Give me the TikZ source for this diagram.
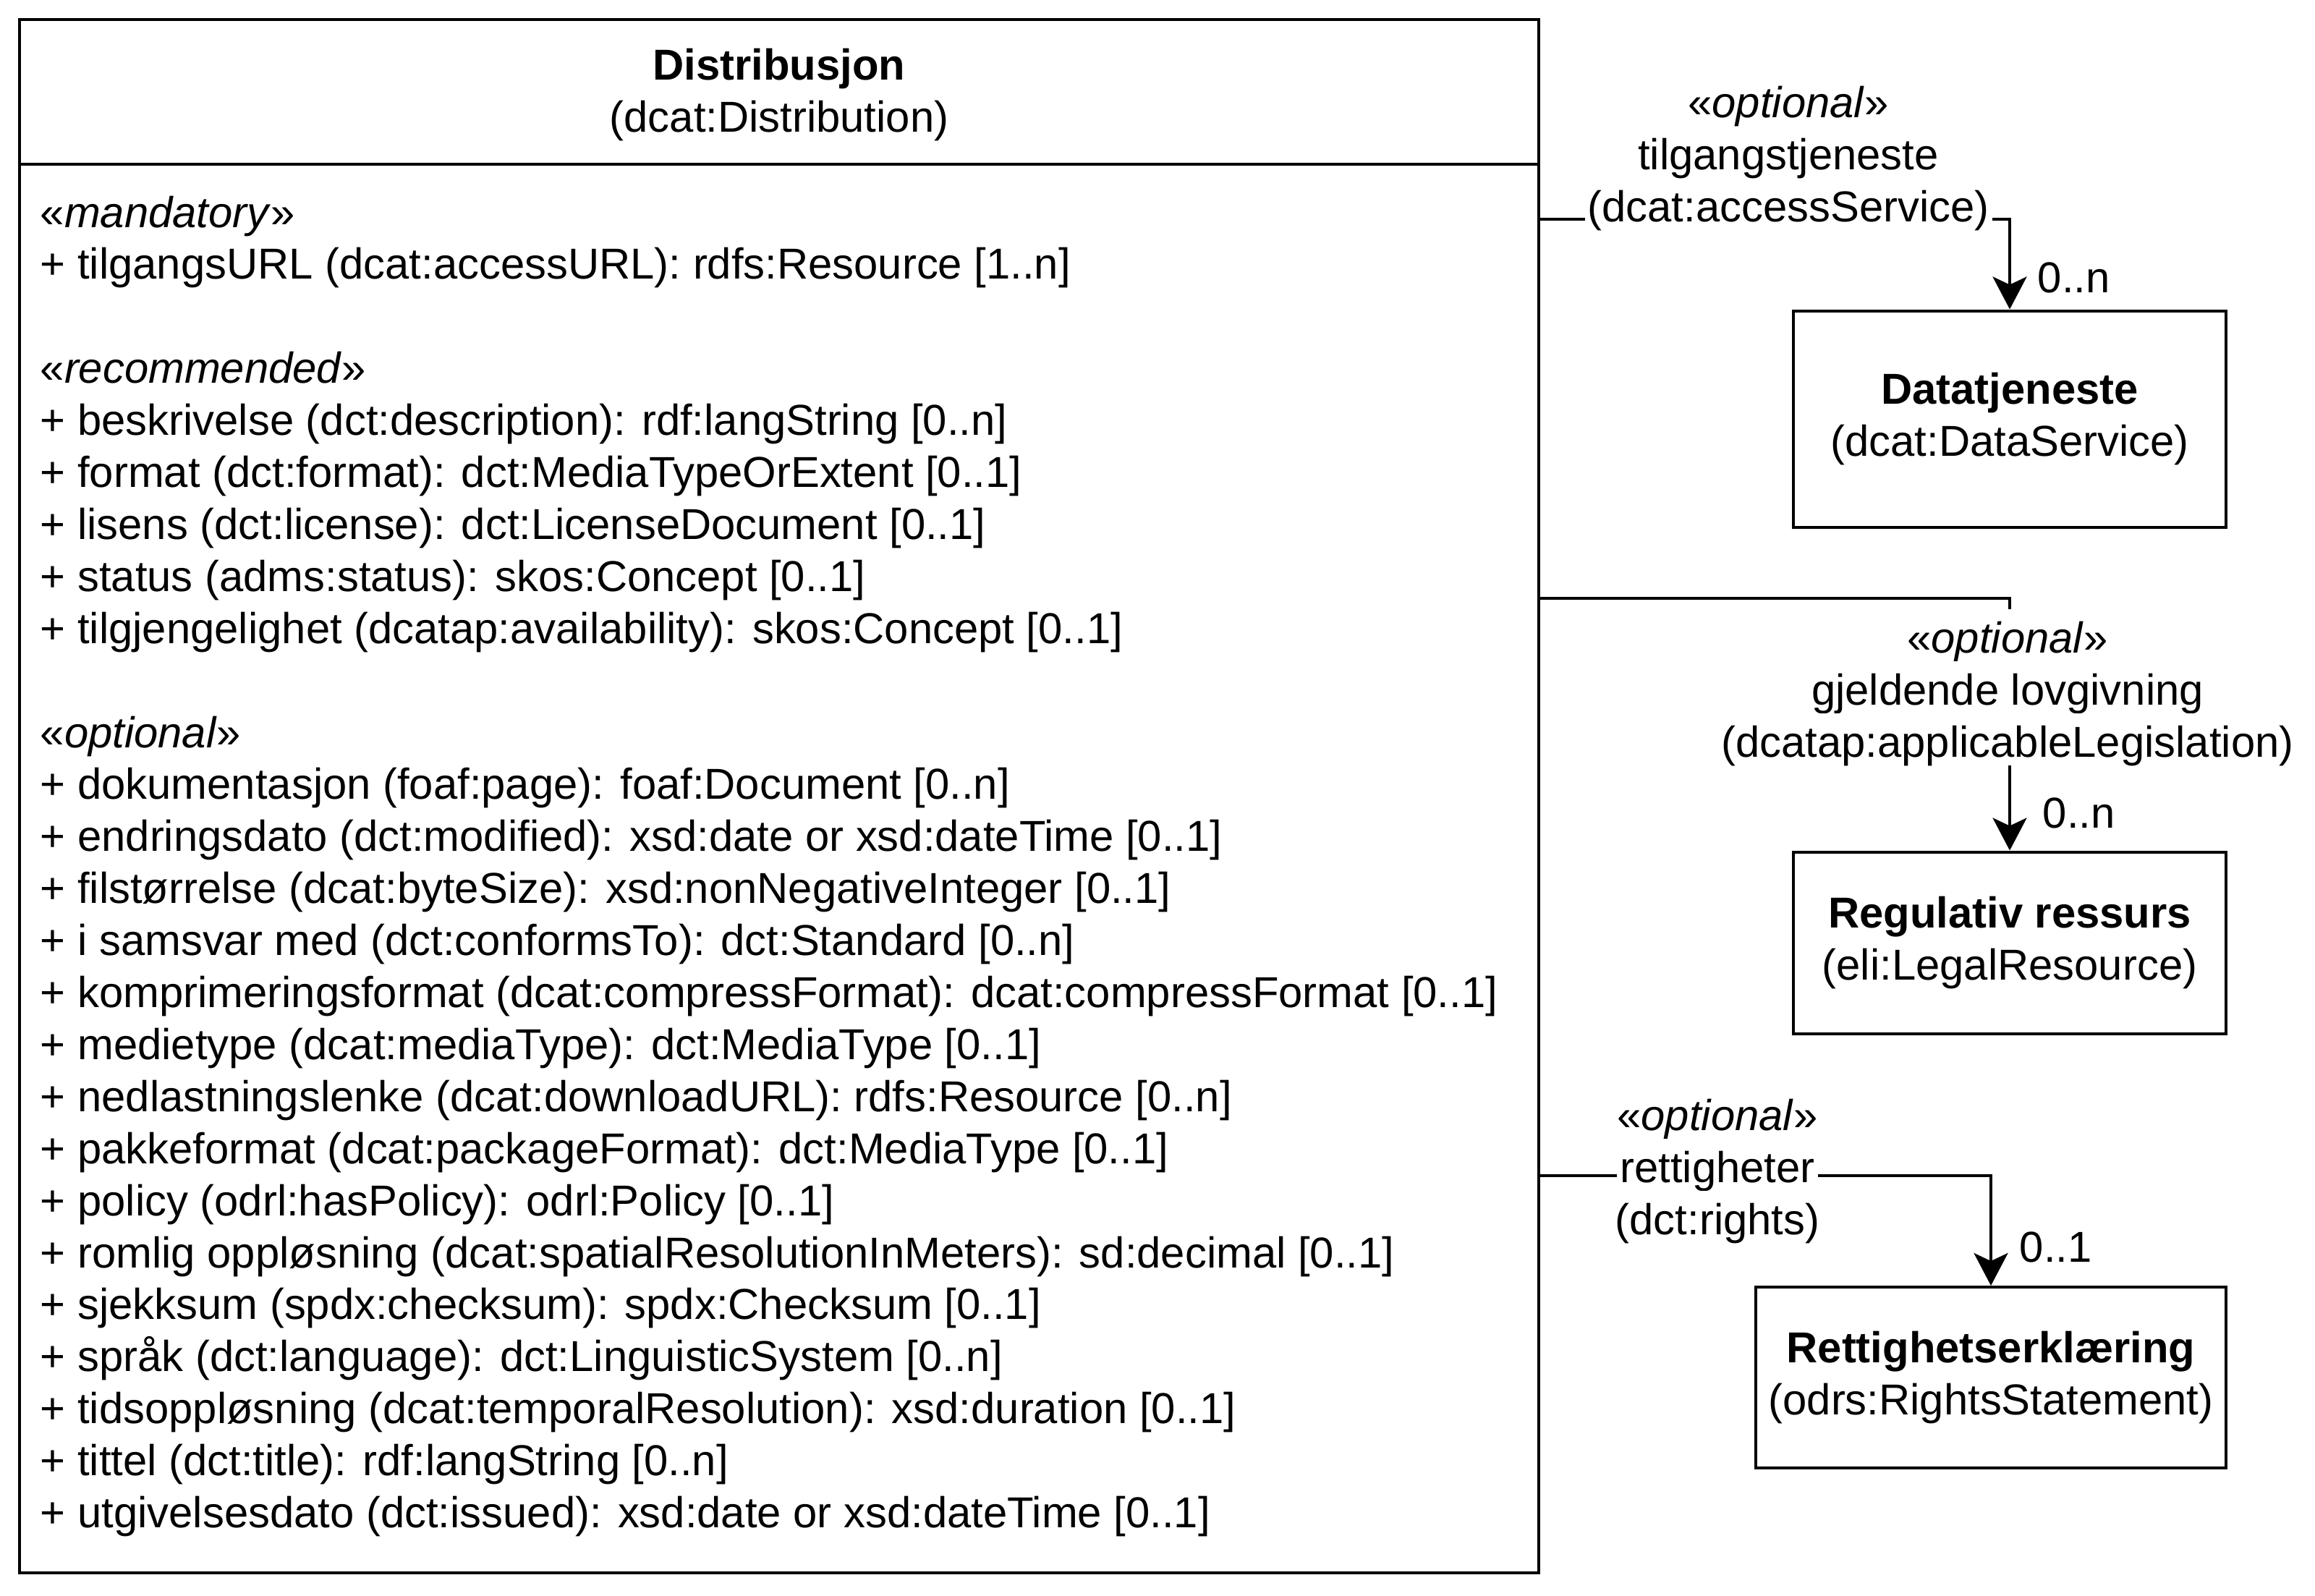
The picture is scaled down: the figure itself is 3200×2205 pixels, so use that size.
\documentclass[tikz,border=0pt]{standalone}
\usepackage{fontspec}
\setmainfont{Liberation Sans}
\usetikzlibrary{arrows.meta}
\begin{document}
\begin{tikzpicture}[x=0.25pt,y=-0.25pt,
  every node/.style={font=\fontsize{14.95pt}{18pt}\selectfont, inner sep=0pt},
  box/.style={draw, line width=1pt, align=center},
  conn/.style={line width=1pt, -{Stealth[length=11.25pt,width=11.75pt,inset=2.75pt]}},
  lbl/.style={anchor=base, fill=white, inner xsep=1pt, inner ysep=0pt, text height=15pt, text depth=3pt},
  attr/.style={anchor=base west},
  mult/.style={anchor=base west},
]
\fill[white] (0,0) rectangle (3200,2205);
\useasboundingbox (0,0) rectangle (3200,2205);

% main class box
\node[box, minimum width=525pt, minimum height=536.75pt] (dist) at (1077,1100.5) {};
\coordinate (sep) at (0,227);
\draw[line width=1pt] (dist.west |- sep) -- (dist.east |- sep);
\node[anchor=base] (t1) at (1077,111) {\textbf{Distribusjon}};
\node[anchor=base] (t2) at (1077,183) {(dcat:Distribution)};

% attributes
\node[attr] (a0)  at (55,314)    {«\textit{mandatory}»};
\node[attr] (a1)  at (55,385.9)  {+ tilgangsURL (dcat:accessURL): rdfs:Resource [1..n]};
\node[attr] (a3)  at (55,529.7)  {«\textit{recommended}»};
\node[attr] (a4)  at (55,601.6)  {+ beskrivelse (dct:description): rdf:langString [0..n]};
\node[attr] (a5)  at (55,673.5)  {+ format (dct:format): dct:MediaTypeOrExtent [0..1]};
\node[attr] (a6)  at (55,745.4)  {+ lisens (dct:license): dct:LicenseDocument [0..1]};
\node[attr] (a7)  at (55,817.3)  {+ status (adms:status): skos:Concept [0..1]};
\node[attr] (a8)  at (55,889.2)  {+ tilgjengelighet (dcatap:availability): skos:Concept [0..1]};
\node[attr] (a10) at (55,1033)   {«\textit{optional}»};
\node[attr] (a11) at (55,1104.9) {+ dokumentasjon (foaf:page): foaf:Document [0..n]};
\node[attr] (a12) at (55,1176.8) {+ endringsdato (dct:modified): xsd:date or xsd:dateTime [0..1]};
\node[attr] (a13) at (55,1248.7) {+ filstørrelse (dcat:byteSize): xsd:nonNegativeInteger [0..1]};
\node[attr] (a14) at (55,1320.6) {+ i samsvar med (dct:conformsTo): dct:Standard [0..n]};
\node[attr] (a15) at (55,1392.5) {+ komprimeringsformat (dcat:compressFormat): dcat:compressFormat [0..1]};
\node[attr] (a16) at (55,1464.4) {+ medietype (dcat:mediaType): dct:MediaType [0..1]};
\node[attr] (a17) at (55,1536.3) {+ nedlastningslenke (dcat:downloadURL): rdfs:Resource [0..n]};
\node[attr] (a18) at (55,1608.2) {+ pakkeformat (dcat:packageFormat): dct:MediaType [0..1]};
\node[attr] (a19) at (55,1680.1) {+ policy (odrl:hasPolicy): odrl:Policy [0..1]};
\node[attr] (a20) at (55,1752)   {+ romlig oppløsning (dcat:spatialResolutionInMeters): sd:decimal [0..1]};
\node[attr] (a21) at (55,1823.9) {+ sjekksum (spdx:checksum): spdx:Checksum [0..1]};
\node[attr] (a22) at (55,1895.8) {+ språk (dct:language): dct:LinguisticSystem [0..n]};
\node[attr] (a23) at (55,1967.7) {+ tidsoppløsning (dcat:temporalResolution): xsd:duration [0..1]};
\node[attr] (a24) at (55,2039.6) {+ tittel (dct:title): rdf:langString [0..n]};
\node[attr] (a25) at (55,2111.5) {+ utgivelsesdato (dct:issued): xsd:date or xsd:dateTime [0..1]};

% target classes
\node[box, minimum width=149.5pt, minimum height=74.75pt] (ds) at (2778,579)
  {\textbf{Datatjeneste}\\(dcat:DataService)};
\node[box, minimum width=149.5pt, minimum height=62.75pt] (rr) at (2778,1303)
  {\textbf{Regulativ ressurs}\\(eli:LegalResource)};
\node[box, minimum width=162.5pt, minimum height=62.5pt] (rs) at (2752,1904)
  {\textbf{Rettighetserklæring}\\(odrs:RightsStatement)};

% connectors
\coordinate (p1) at (2127,303);
\coordinate (p2) at (2127,827);
\coordinate (p3) at (2127,1625);
\draw[conn] (p1) -| (ds.north);
\draw[conn] (p2) -| (rr.north);
\draw[conn] (p3) -| (rs.north);

% connector labels
\node[lbl] (l1a) at (2472,163) {«\textit{optional}»};
\node[lbl] (l1b) at (2472,235) {tilgangstjeneste};
\node[lbl] (l1c) at (2472,307) {(dcat:accessService)};
\node[mult] (m1) at (2816,404) {0..n};

\node[lbl] (l2a) at (2775,902)  {«\textit{optional}»};
\node[lbl] (l2b) at (2775,974)  {gjeldende lovgivning};
\node[lbl] (l2c) at (2775,1046) {(dcatap:applicableLegislation)};
\node[mult] (m2) at (2823,1144) {0..n};

\node[lbl] (l3a) at (2374,1562) {«\textit{optional}»};
\node[lbl] (l3b) at (2374,1634) {rettigheter};
\node[lbl] (l3c) at (2374,1706) {(dct:rights)};
\node[mult] (m3) at (2791,1744) {0..1};
\end{tikzpicture}
\end{document}
